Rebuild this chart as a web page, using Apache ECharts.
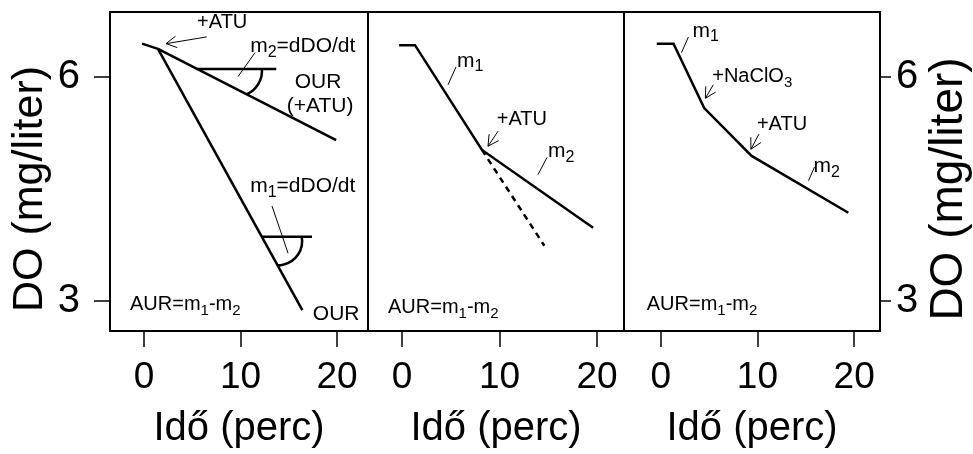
<!DOCTYPE html>
<html>
<head>
<meta charset="utf-8">
<script src="https://cdn.jsdelivr.net/npm/echarts@6/dist/echarts.min.js"></script>
<style>
html,body{margin:0;padding:0;background:#fff;}
#chart{width:973px;height:454px;}
</style>
</head>
<body>
<div id="chart"></div>
<script>
// ---- data ----
const timeTicks = [0, 10, 20];
const doTicks = [3, 6];
const xTitle = 'Idő (perc)';
const yTitle = 'DO (mg/liter)';

// Panel 1
const p1Start = [[-0.2, 6.44], [1.45, 6.37]];
const p1OUR = [[1.45, 6.37], [16.4, 2.88]];
const p1OURatu = [[1.45, 6.37], [19.9, 5.15]];
const p1RefM2 = [[5.5, 6.10], [13.7, 6.10]];
const p1RefM1 = [[12.2, 3.86], [17.4, 3.86]];
// Panel 2
const p2Solid = [[-0.3, 6.42], [1.33, 6.42], [8.2, 5.02], [19.6, 3.98]];
const p2Dashed = [[8.2, 5.02], [14.6, 3.74]];
// Panel 3
const p3Solid = [[-0.4, 6.44], [1.33, 6.44], [4.5, 5.58], [9.4, 4.94], [19.4, 4.18]];

// annotations (data coordinates)
const ann1 = [
  {t: 'text', at: [8.1, 6.72], text: '+ATU', align: 'center', size: 20},
  {t: 'arrow', from: [6.5, 6.53], to: [2.28, 6.44]},
  {t: 'text', at: [11.0, 6.40], text: 'm{s|2}=dDO/dt', align: 'left', size: 21},
  {t: 'line', from: [11.5, 6.32], to: [9.74, 6.0]},
  {t: 'arc', at: [9.53, 6.08], r: 26, a0: -5, a1: 65},
  {t: 'text', at: [18.03, 5.93], text: 'OUR', align: 'center', size: 21},
  {t: 'text', at: [18.24, 5.60], text: '(+ATU)', align: 'center', size: 21},
  {t: 'text', at: [11.0, 4.53], text: 'm{s|1}=dDO/dt', align: 'left', size: 21},
  {t: 'line', from: [13.26, 4.27], to: [14.92, 3.64]},
  {t: 'arc', at: [13.89, 3.80], r: 24, a0: -12, a1: 92},
  {t: 'text', at: [-1.45, 2.95], text: 'AUR=m{s|1}-m{s|2}', align: 'left', size: 20},
  {t: 'text', at: [19.9, 2.83], text: 'OUR', align: 'center', size: 21}
];
const ann2 = [
  {t: 'text', at: [5.64, 6.21], text: 'm{s|1}', align: 'left', size: 21},
  {t: 'line', from: [5.54, 6.13], to: [4.72, 5.89]},
  {t: 'text', at: [12.3, 5.42], text: '+ATU', align: 'center', size: 20},
  {t: 'arrow', from: [9.85, 5.27], to: [8.82, 5.07]},
  {t: 'text', at: [14.97, 5.0], text: 'm{s|2}', align: 'left', size: 21},
  {t: 'line', from: [14.87, 4.92], to: [13.95, 4.69]},
  {t: 'text', at: [-1.44, 2.91], text: 'AUR=m{s|1}-m{s|2}', align: 'left', size: 20}
];
const ann3 = [
  {t: 'text', at: [3.28, 6.61], text: 'm{s|1}', align: 'left', size: 21},
  {t: 'line', from: [2.87, 6.53], to: [2.15, 6.32]},
  {t: 'text', at: [5.33, 6.0], text: '+NaClO{s|3}', align: 'left', size: 20},
  {t: 'arrow', from: [5.44, 5.89], to: [4.62, 5.71]},
  {t: 'text', at: [9.95, 5.36], text: '+ATU', align: 'left', size: 20},
  {t: 'arrow', from: [10.15, 5.23], to: [9.33, 5.03]},
  {t: 'text', at: [15.8, 4.8], text: 'm{s|2}', align: 'left', size: 21},
  {t: 'line', from: [15.9, 4.79], to: [15.28, 4.61]},
  {t: 'text', at: [-1.44, 2.95], text: 'AUR=m{s|1}-m{s|2}', align: 'left', size: 20}
];

// ---- chart ----
const FONT = '"Liberation Sans", Arial, sans-serif';
const chart = echarts.init(document.getElementById('chart'), null, {renderer: 'canvas'});

const grids = [
  {left: 110, top: 12, width: 258, height: 321},
  {left: 368, top: 12, width: 256, height: 321},
  {left: 624, top: 12, width: 258, height: 321}
].map(g => Object.assign(g, {show: true, borderColor: '#000', borderWidth: 2, backgroundColor: 'transparent'}));

const xRanges = [[-3.52, 23.2], [-3.49, 22.77], [-3.79, 22.67]];
const yMin = 2.60, yMax = 6.863;

const xAxes = xRanges.map((r, i) => ({
  type: 'value', gridIndex: i, min: r[0], max: r[1],
  axisLine: {show: false, onZero: false},
  splitLine: {show: false},
  axisTick: {show: true, inside: false, length: 16, customValues: timeTicks, lineStyle: {color: '#000', width: 1.5}},
  axisLabel: {show: true, customValues: timeTicks, margin: 28, fontSize: 37, fontFamily: FONT, color: '#000'},
  name: xTitle, nameLocation: 'middle', nameGap: 78,
  nameTextStyle: {fontSize: 40, fontFamily: FONT, color: '#000'}
}));

const yAxes = [0, 1, 2].map(i => {
  const base = {
    type: 'value', gridIndex: i, min: yMin, max: yMax,
    axisLine: {show: false, onZero: false}, splitLine: {show: false}
  };
  if (i === 1) {
    return Object.assign(base, {axisTick: {show: false}, axisLabel: {show: false}});
  }
  const left = i === 0;
  return Object.assign(base, {
    position: left ? 'left' : 'right',
    axisTick: {show: true, inside: false, length: left ? 16 : 11, customValues: doTicks, lineStyle: {color: '#000', width: 1.5}},
    axisLabel: {show: true, customValues: doTicks, margin: left ? 30 : 16, fontSize: 40, fontFamily: FONT, color: '#000'},
    name: yTitle, nameLocation: 'middle', nameRotate: 90, nameGap: left ? 58 : 46,
    nameTextStyle: {fontSize: left ? 43 : 46, fontFamily: FONT, color: '#000', padding: [0, 35, 0, 0]}
  });
});

function lineSeries(data, gi, dashed) {
  return {
    type: 'line', xAxisIndex: gi, yAxisIndex: gi, data: data,
    symbol: 'none', silent: true, animation: false,
    lineStyle: {color: '#000', width: 2.5, type: dashed ? [6, 5] : 'solid', cap: 'butt', join: 'miter'}
  };
}

function annSeries(list, gi) {
  return {
    type: 'custom', xAxisIndex: gi, yAxisIndex: gi, data: [[0, 0]],
    silent: true, animation: false, clip: false, z: 5,
    renderItem: function (params, api) {
      const children = [];
      list.forEach(a => {
        if (a.t === 'text') {
          const p = api.coord(a.at);
          children.push({
            type: 'text',
            style: {
              x: p[0], y: p[1], text: a.text, fill: '#000',
              font: a.size + 'px ' + FONT,
              align: a.align, verticalAlign: 'middle',
              lineHeight: Math.round(a.size * 1.35),
              rich: {s: {fontSize: Math.round(a.size * 0.75), fontFamily: FONT, verticalAlign: 'bottom', lineHeight: Math.round(a.size * 0.7), fill: '#000'}}
            }
          });
        } else if (a.t === 'line') {
          const p1 = api.coord(a.from), p2 = api.coord(a.to);
          children.push({type: 'line', shape: {x1: p1[0], y1: p1[1], x2: p2[0], y2: p2[1]}, style: {stroke: '#000', lineWidth: 1}});
        } else if (a.t === 'arrow') {
          const p1 = api.coord(a.from), p2 = api.coord(a.to);
          children.push({type: 'line', shape: {x1: p1[0], y1: p1[1], x2: p2[0], y2: p2[1]}, style: {stroke: '#000', lineWidth: 1}});
          const ang = Math.atan2(p1[1] - p2[1], p1[0] - p2[0]);
          const L = 12, spread = 0.5;
          [ang - spread, ang + spread].forEach(b => {
            children.push({type: 'line', shape: {x1: p2[0], y1: p2[1], x2: p2[0] + L * Math.cos(b), y2: p2[1] + L * Math.sin(b)}, style: {stroke: '#000', lineWidth: 1}});
          });
        } else if (a.t === 'arc') {
          const p = api.coord(a.at);
          children.push({
            type: 'arc',
            shape: {cx: p[0], cy: p[1], r: a.r, startAngle: a.a0 * Math.PI / 180, endAngle: a.a1 * Math.PI / 180, clockwise: true},
            style: {stroke: '#000', fill: null, lineWidth: 2.5}
          });
        }
      });
      return {type: 'group', children: children};
    }
  };
}

const series = [
  lineSeries(p1Start, 0), lineSeries(p1OUR, 0), lineSeries(p1OURatu, 0),
  lineSeries(p1RefM2, 0), lineSeries(p1RefM1, 0),
  lineSeries(p2Solid, 1), lineSeries(p2Dashed, 1, true),
  lineSeries(p3Solid, 2),
  annSeries(ann1, 0), annSeries(ann2, 1), annSeries(ann3, 2)
];

chart.setOption({
  animation: false,
  backgroundColor: '#fff',
  grid: grids,
  xAxis: xAxes,
  yAxis: yAxes,
  series: series
});
</script>
</body>
</html>
